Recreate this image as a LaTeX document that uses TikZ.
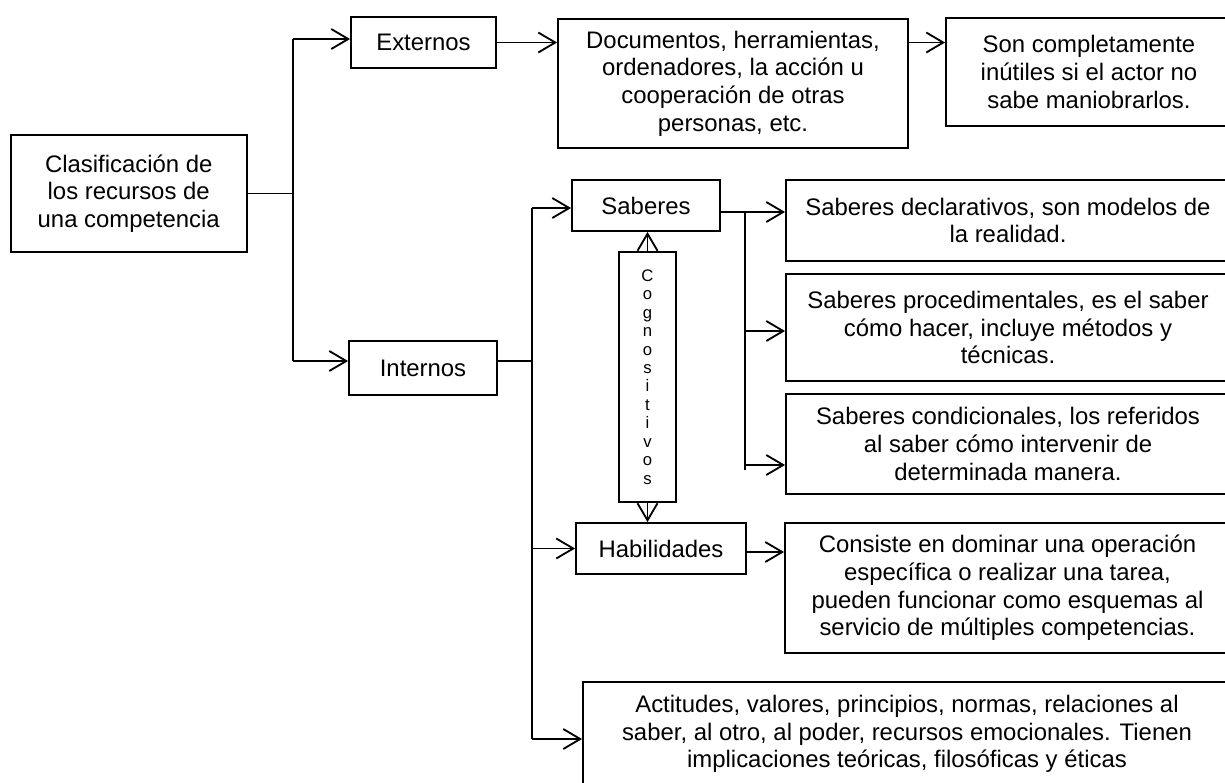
\documentclass[tikz,border=0pt]{standalone}
\usepackage{fontspec}
\setmainfont{Liberation Sans}
\usetikzlibrary{arrows.meta}

\begin{document}
\begin{tikzpicture}[x=0.2mm, y=-0.2mm, line width=1.05pt,
  caja/.style={draw, align=center, inner sep=0pt, font=\fontsize{13.6}{15.7}\selectfont},
  flecha/.style={-{Straight Barb[length=3.4mm,width=4mm]}}]
  \useasboundingbox (0,0) rectangle (1225,783);
  % cajas
  \node[caja, minimum width=47.2mm, minimum height=23.4mm] (clasif) at (128.7,193.5) {Clasificación de\\los recursos de\\una competencia};
  \node[caja, minimum width=29mm, minimum height=10.2mm] (ext) at (423.5,42.5) {Externos};
  \node[caja, minimum width=70mm, minimum height=25.8mm] (docs) at (733,83.5) {Documentos, herramientas,\\ordenadores, la acción u\\cooperación de otras\\personas, etc.};
  \node[caja, minimum width=57.2mm, minimum height=21.6mm] (son) at (1089,72) {Son completamente\\inútiles si el actor no\\sabe maniobrarlos.};
  \node[caja, minimum width=29.6mm, minimum height=10.8mm] (int) at (423,368) {Internos};
  \node[caja, minimum width=29.6mm, minimum height=10.2mm] (sab) at (646,205.5) {Saberes};
  \node[caja, minimum width=11.4mm, minimum height=50mm, font=\fontsize{9.5}{10.5}\selectfont] (cog) at (647.5,377) {C\\o\\g\\n\\o\\s\\i\\t\\i\\v\\o\\s};
  \node[caja, minimum width=88.8mm, minimum height=16.2mm] (decl) at (1008,220.5) {Saberes declarativos, son modelos de\\la realidad.};
  \node[caja, minimum width=88.8mm, minimum height=21.4mm] (proc) at (1008,327.5) {Saberes procedimentales, es el saber\\cómo hacer, incluye métodos y\\técnicas.};
  \node[caja, minimum width=88.8mm, minimum height=20mm] (cond) at (1008,444) {Saberes condicionales, los referidos\\al saber cómo intervenir de\\determinada manera.};
  \node[caja, minimum width=34mm, minimum height=10.2mm] (hab) at (661,548.5) {Habilidades};
  \node[caja, minimum width=89mm, minimum height=26mm] (cons) at (1007.5,588) {Consiste en dominar una operación\\específica o realizar una tarea,\\pueden funcionar como esquemas al\\servicio de múltiples competencias.};
  \node[caja, minimum width=129.6mm, minimum height=20.8mm] (act) at (907,734) {Actitudes, valores, principios, normas, relaciones al\\saber, al otro, al poder, recursos emocionales. Tienen\\implicaciones teóricas, filosóficas y éticas};
  % puntos de ramificacion
  \coordinate (r1) at (293,39);
  \coordinate (r2) at (293,361);
  \coordinate (r3) at (532,208);
  \coordinate (r4) at (532,739);
  \coordinate (r5) at (745,212);
  \coordinate (r6) at (745,470);
  % conectores
  \draw (clasif.east) -- (clasif.east -| r1);
  \draw (r1) -- (r2);
  \draw[flecha] (r1) -- (r1 -| ext.west);
  \draw[flecha] (r2) -- (r2 -| int.west);
  \draw[flecha] (ext.east) -- (ext.east -| docs.west);
  \draw[flecha] (docs.east |- ext.east) -- (son.west |- ext.east);
  \draw (int.east |- r2) -- (r2 -| r3);
  \draw (r3) -- (r4);
  \draw[flecha] (r3) -- (r3 -| sab.west);
  \draw[flecha] (r3 |- hab.west) -- (hab.west);
  \draw[flecha] (r4) -- (r4 -| act.west);
  \draw (sab.east |- r5) -- (r5);
  \draw (r5) -- (r6);
  \draw[flecha] (r5) -- (r5 -| decl.west);
  \draw[flecha] (r5 |- 0,331) -- (proc.west |- 0,331);
  \draw[flecha] (r5 |- 0,465) -- (cond.west |- 0,465);
  \draw[flecha] (cog.north) -- (cog.north |- sab.south);
  \draw[flecha] (cog.south) -- (cog.south |- hab.north);
  \draw[flecha] (hab.east |- 0,552) -- (cons.west |- 0,552);
\end{tikzpicture}
\end{document}
